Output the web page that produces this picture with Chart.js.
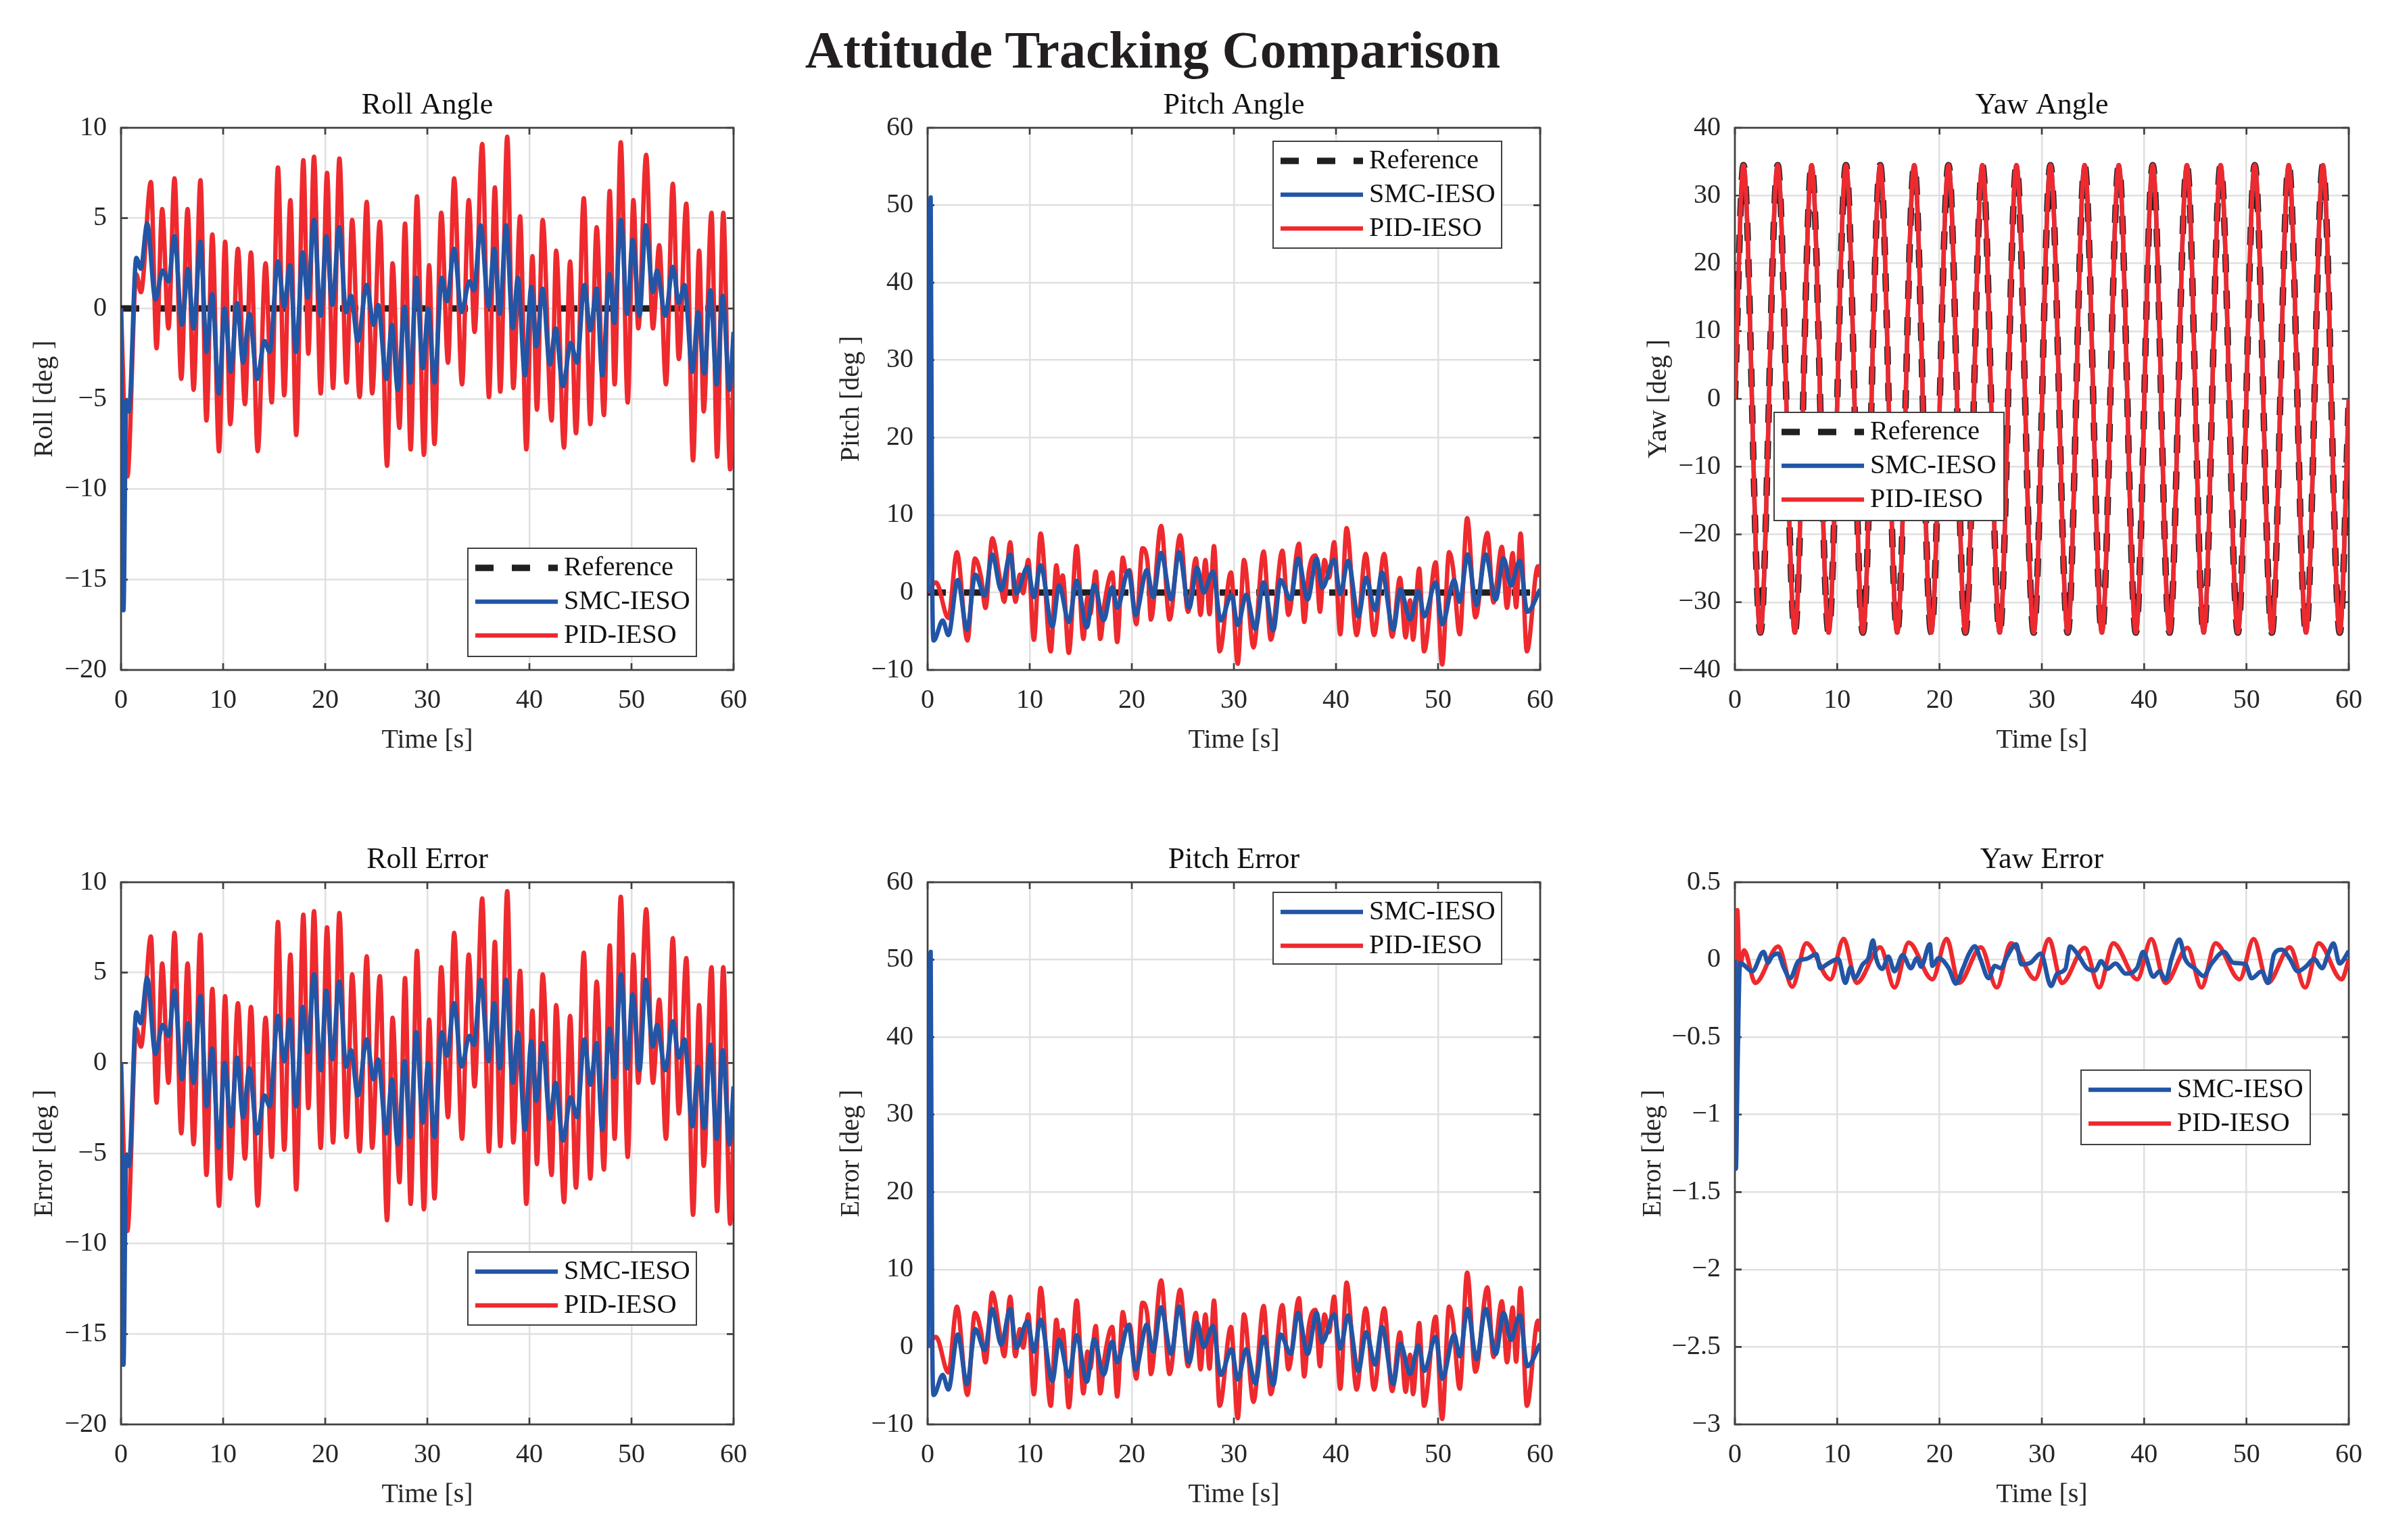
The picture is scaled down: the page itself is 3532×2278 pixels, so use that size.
<!DOCTYPE html>
<html>
<head>
<meta charset="utf-8">
<script src="https://cdn.jsdelivr.net/npm/chart.js@4.4.1/dist/chart.umd.min.js"></script>
<style>
  html, body { margin: 0; padding: 0; background: #fff; }
  #page { position: relative; width: 3532px; height: 2278px; overflow: hidden; }
  #page canvas { position: absolute; }
  #suptitle {
    position: absolute; left: 0; top: 29px; width: 3410px; line-height: 90px;
    text-align: center; font: bold 78px "Liberation Serif", "Times New Roman", serif; color: #231f20;
  }
</style>
</head>
<body>
<div id="page">
  <div id="suptitle">Attitude Tracking Comparison</div>
</div>
<script>
// time [s], value [deg] pairs (peaks / troughs)
const timeTicks = [0, 10, 20, 30, 40, 50, 60];

const zeroRef = [[0, 0], [60, 0]];

const rollSmc = [[0,0],[0.24,-16.7],[0.5,-5.1],[0.77,-5.7],[1.5,2.8],[1.94,2.2],[2.56,4.7],[3.37,0.5],[4.07,2.1],[4.65,1.5],
  [5.24,4.0],[5.97,-0.9],[6.56,2.2],[7.11,-1.1],[7.78,3.7],[8.39,-2.4],[8.92,0.8],[9.58,-4.7],[10.15,0.0],[10.75,-3.5],
  [11.37,0.3],[11.96,-3.0],[12.58,-0.3],[13.33,-3.9],[14.05,-1.8],[14.56,-2.4],[15.37,2.6],[15.99,0.1],[16.54,2.4],[17.14,-2.4],
  [17.8,3.1],[18.28,0.6],[18.9,4.9],[19.56,-0.4],[20.11,4.0],[20.7,0.2],[21.37,4.5],[22.05,-0.2],[22.53,0.7],[23.19,-1.8],
  [24.07,1.3],[24.74,-0.9],[25.18,0.2],[25.99,-3.9],[26.54,-0.9],[27.11,-4.5],[27.78,0.1],[28.33,-4.1],[28.92,1.7],[29.58,-3.3],
  [30.08,0.0],[30.7,-4.1],[31.43,1.7],[31.92,0.4],[32.63,3.3],[33.35,-0.2],[34.13,1.5],[34.57,1.0],[35.23,4.6],[36.0,0.1],
  [36.55,3.3],[37.1,-0.3],[37.72,4.6],[38.38,-1.1],[38.87,1.7],[39.57,-3.7],[40.19,1.2],[40.68,-2.1],[41.3,1.1],[42.0,-3.1],
  [42.57,-1.1],[43.28,-4.3],[44.05,-1.9],[44.67,-3.0],[45.38,1.3],[45.97,-1.2],[46.59,1.1],[47.14,-3.7],[47.85,1.9],[48.31,-0.8],
  [48.97,4.9],[49.57,-0.3],[50.12,3.8],[50.78,-0.4],[51.4,4.6],[52.1,0.9],[52.5,2.1],[53.32,-0.4],[54.05,2.3],[54.64,0.3],
  [55.19,1.3],[55.97,-3.5],[56.52,-0.2],[57.13,-3.6],[57.73,1.0],[58.35,-4.2],[58.94,0.7],[59.6,-4.5],[60,-1.3]];

const rollPid = [[0,0],[0.62,-9.3],[1.5,1.9],[1.95,0.9],[2.93,7.0],[3.48,-2.2],[4.03,5.5],[4.65,-1.1],[5.24,7.2],[5.9,-3.9],
  [6.52,5.5],[7.11,-4.5],[7.78,7.1],[8.37,-6.2],[8.94,4.1],[9.6,-7.9],[10.2,3.7],[10.7,-6.4],[11.45,3.3],[12.14,-5.3],
  [12.73,3.1],[13.39,-7.9],[14.16,2.5],[14.76,-5.2],[15.37,7.8],[15.99,-4.8],[16.59,6.0],[17.16,-7.0],[17.86,8.2],[18.35,-2.5],
  [18.9,8.4],[19.56,-4.7],[20.18,7.5],[20.77,-4.4],[21.39,8.3],[22.09,-4.1],[22.64,4.9],[23.37,-4.9],[24.07,5.9],[24.6,-4.7],
  [25.35,4.8],[26.06,-8.7],[26.6,2.5],[27.27,-6.6],[27.82,4.7],[28.37,-7.8],[28.99,6.2],[29.67,-8.1],[30.18,2.4],[30.7,-7.5],
  [31.37,5.3],[32.03,-3.0],[32.63,7.2],[33.4,-4.2],[34.06,6.0],[34.63,-1.3],[35.38,9.1],[36.04,-4.9],[36.62,6.7],[37.15,-4.6],
  [37.83,9.5],[38.43,-4.4],[39.09,5.1],[39.7,-7.8],[40.3,2.9],[40.74,-5.6],[41.3,4.9],[42.18,-6.2],[42.62,3.2],[43.39,-7.7],
  [43.99,2.6],[44.56,-6.9],[45.33,6.1],[45.97,-6.4],[46.59,4.5],[47.3,-5.9],[47.87,6.5],[48.35,-4.2],[48.95,9.2],[49.63,-5.2],
  [50.19,6.0],[50.67,-1.1],[51.44,8.5],[52.1,-1.1],[52.72,3.5],[53.38,-4.2],[54.05,6.9],[54.64,-2.8],[55.37,5.8],[56.03,-8.4],
  [56.63,3.2],[57.07,-5.7],[57.84,5.3],[58.39,-8.2],[58.99,5.3],[59.67,-8.9],[60,-3.5]];

const pitchSmc = [[0,0],[0.12,36],[0.3,51],[0.45,1],[0.6,-6.2],[1.48,-3.6],[2.03,-5.5],[2.95,1.6],[3.86,-4.8],[4.67,2.3],
  [5.6,-0.4],[6.33,4.9],[7.21,0.3],[8.09,4.9],[8.69,-0.1],[9.79,3.3],[10.41,-0.6],[11.07,3.5],[12.22,-4.4],[12.88,0.9],
  [13.83,-3.8],[14.6,1.5],[15.59,-4.5],[16.32,1.0],[17.24,-3.6],[18.08,0.7],[18.57,-2.0],[19.67,2.8],[20.37,-2.9],[21.48,2.9],
  [22.09,-0.6],[22.87,5.1],[23.86,-0.9],[24.63,5.2],[25.62,-2.0],[26.39,3.2],[27.05,0.0],[27.94,2.7],[28.71,-3.6],[29.76,-0.3],
  [30.38,-4.2],[31.21,-0.3],[32.1,-4.7],[32.91,1.3],[33.86,-4.9],[34.57,1.6],[35.56,-0.9],[36.29,4.4],[37.22,-0.9],[38.1,4.4],
  [38.65,0.6],[39.82,4.2],[40.42,-0.2],[41.19,4.1],[42.19,-3.1],[42.96,1.9],[43.84,-2.3],[44.5,2.6],[45.61,-4.8],[46.31,0.4],
  [47.26,-3.5],[48.08,0.2],[48.65,-3.1],[49.76,1.3],[50.42,-4.1],[51.57,1.6],[52.12,-1.2],[52.89,4.9],[53.77,-1.6],[54.66,4.9],
  [55.65,-0.9],[56.42,4.4],[57.13,0.9],[58.01,4.1],[58.74,-2.5],[60,0.4]];

const pitchPid = [[0,0],[0.82,1.3],[2.03,-3.3],[2.87,5.2],[3.9,-6.2],[4.63,4.4],[5.23,2.0],[5.67,-2.0],[6.33,7.0],[7.1,1.6],
  [7.5,-1.2],[8.09,6.5],[8.6,-1.2],[9.04,2.3],[9.35,-0.1],[9.86,4.2],[10.41,-6.1],[11.07,7.6],[12.06,-7.6],[12.61,3.5],
  [12.94,0.4],[13.23,2.2],[13.83,-7.8],[14.6,6.0],[15.26,-6.0],[15.66,-0.6],[15.92,-2.8],[16.47,2.7],[16.91,-6.0],[17.35,-1.2],
  [18.08,2.6],[18.57,-6.4],[19.12,4.5],[19.45,2.5],[19.78,2.9],[20.44,-4.1],[21.04,5.7],[21.54,3.9],[21.87,-3.5],[22.87,8.6],
  [23.7,-3.5],[24.74,7.4],[25.51,-2.5],[26.28,4.4],[26.73,-2.9],[27.21,4.2],[27.61,-2.8],[28.05,6.0],[28.6,-7.6],[29.71,2.6],
  [30.38,-9.2],[30.99,4.2],[31.92,-7.1],[32.91,5.3],[33.62,-6.1],[34.75,5.4],[35.34,-2.9],[36.38,6.3],[36.89,-3.8],[37.33,2.6],
  [37.99,4.8],[38.43,-2.5],[38.87,4.2],[39.32,1.9],[39.82,6.5],[40.42,-5.4],[41.04,8.3],[42.03,-5.5],[42.91,5.0],[43.73,-5.5],
  [44.72,5.0],[45.5,-5.7],[46.27,1.9],[46.82,-5.8],[47.26,-1.0],[47.55,-6.1],[48.15,3.1],[48.63,-7.6],[49.76,3.9],[50.4,-9.3],
  [51.08,5.2],[51.46,3.2],[52.12,-5.4],[52.85,9.6],[53.66,-3.2],[54.83,7.7],[55.43,-1.3],[56.25,5.9],[56.75,-2.0],[57.31,5.1],
  [57.64,-1.9],[58.08,7.6],[58.7,-7.6],[59.78,3.4],[60,2.0]];

const yawTrack = [[0,0],[0.84,34.5],[2.49,-34.5],[4.18,34.5],[5.86,-34.5],[7.5,34.5],[9.16,-34.5],[10.86,34.5],[12.51,-34.5],
  [14.2,34.5],[15.86,-34.5],[17.53,34.5],[19.19,-34.5],[20.88,34.5],[22.53,-34.5],[24.19,34.5],[25.88,-34.5],[27.52,34.5],
  [29.21,-34.5],[30.84,34.5],[32.53,-34.5],[34.18,34.5],[35.87,-34.5],[37.52,34.5],[39.19,-34.5],[40.84,34.5],[42.48,-34.5],
  [44.18,34.5],[45.82,-34.5],[47.47,34.5],[49.16,-34.5],[50.81,34.5],[52.48,-34.5],[54.13,34.5],[55.82,-34.5],[57.47,34.5],
  [59.12,-34.5],[60,0]];

const yawErrSmc = [[0,0],[0.1,-1.35],[0.25,-0.75],[0.5,-0.02],[1.7,-0.075],[2.8,0.05],[3.25,-0.02],[3.6,0.02],[4.2,0.04],
  [4.8,-0.055],[5.4,-0.12],[6.2,-0.01],[7.0,0.005],[7.96,0.035],[8.35,-0.055],[9.1,-0.025],[10.1,0.005],[10.8,-0.15],[11.3,-0.05],
  [11.7,-0.12],[12.5,-0.03],[13.05,0.01],[13.5,0.125],[13.8,0.01],[14.4,-0.06],[15.0,0.02],[15.6,-0.075],[16.4,0.03],[17.2,-0.055],
  [17.8,0.01],[18.2,-0.045],[19.06,0.1],[19.3,-0.04],[19.9,0.01],[20.9,-0.055],[21.6,-0.155],[22.3,-0.055],[22.9,0.04],[23.45,0.087],
  [24.0,0.005],[24.8,-0.12],[25.4,-0.04],[26.0,-0.055],[26.6,0.02],[27.5,0.1],[28.0,-0.03],[28.9,-0.02],[29.9,0.04],[30.9,-0.17],
  [31.5,-0.09],[32.3,-0.06],[32.75,0.085],[33.45,0.04],[34.4,-0.055],[35.2,-0.07],[35.8,-0.01],[36.4,-0.06],[37.2,-0.025],[38.2,-0.09],
  [39.3,-0.055],[39.9,0.05],[40.9,-0.11],[41.5,-0.075],[42.1,-0.13],[42.7,0.01],[43.45,0.13],[44.0,0.005],[45.0,-0.06],[45.8,-0.105],
  [46.6,-0.025],[47.8,0.05],[48.7,-0.02],[49.9,-0.03],[50.5,-0.12],[51.5,-0.075],[52.1,-0.15],[52.7,0.035],[53.45,0.065],[54.2,0.01],
  [55.0,-0.075],[55.8,-0.045],[56.6,0.005],[57.4,-0.055],[58.0,0.04],[58.5,0.105],[59.1,-0.025],[60,0.055]];

const yawErrPid = [[0,0],[0.05,-1.2],[0.24,0.32],[0.45,-0.05],[0.9,0.06],[2.0,-0.15],[4.24,0.085],[5.6,-0.175],[6.98,0.106],
  [9.33,-0.127],[10.63,0.135],[11.9,-0.15],[14.2,0.08],[15.6,-0.18],[16.98,0.11],[19.3,-0.127],[20.7,0.135],[21.9,-0.15],
  [24.04,0.08],[25.6,-0.18],[26.98,0.106],[29.33,-0.124],[30.7,0.133],[31.96,-0.15],[34.2,0.077],[35.6,-0.18],[36.98,0.106],
  [39.33,-0.127],[40.7,0.133],[42.08,-0.15],[44.24,0.077],[45.6,-0.18],[46.98,0.106],[49.33,-0.127],[50.7,0.133],[52.08,-0.15],
  [54.24,0.08],[55.73,-0.18],[57.06,0.106],[59.3,-0.127],[60,0]];

const FONT = '"Liberation Serif", "Times New Roman", serif';
const TXT = '#262626', AXIS = '#404040', GRID = '#e0e0e0';
const RED = '#ee2a2e', BLUE = '#2255a5', BLACK = '#202020';

const pts = arr => arr.map(([x, y]) => ({ x, y }));
const fmt = v => String(Math.round(v * 100) / 100).replace('-', '\u2212');

function series(label, data, color, order, dashed) {
  return {
    label, data: pts(data), borderColor: color, borderWidth: dashed ? 9.5 : 6.5,
    borderDash: dashed ? [27, 27] : [], borderCapStyle: 'butt', order,
    fill: false, pointRadius: 0, cubicInterpolationMode: 'monotone'
  };
}

// inward ticks + box, MATLAB style
const axesBox = {
  id: 'axesBox',
  beforeDatasetsDraw(chart) {
    const { ctx, chartArea: a } = chart;
    const xs = chart.scales.x, ys = chart.scales.y;
    ctx.save();
    ctx.strokeStyle = AXIS;
    ctx.lineWidth = 2.7;
    ctx.beginPath();
    xs.ticks.forEach(t => {
      const p = xs.getPixelForValue(t.value);
      ctx.moveTo(p, a.bottom); ctx.lineTo(p, a.bottom - 10);
      ctx.moveTo(p, a.top); ctx.lineTo(p, a.top + 10);
    });
    ys.ticks.forEach(t => {
      const p = ys.getPixelForValue(t.value);
      ctx.moveTo(a.left, p); ctx.lineTo(a.left + 10, p);
      ctx.moveTo(a.right, p); ctx.lineTo(a.right - 10, p);
    });
    ctx.stroke();
    ctx.strokeRect(a.left, a.top, a.right - a.left, a.bottom - a.top);
    ctx.restore();
  }
};

// legend box placed inside the axes
const boxLegend = {
  id: 'boxLegend',
  afterDatasetsDraw(chart, args, opts) {
    const { ctx, chartArea: a } = chart;
    const x0 = a.left + opts.x, y0 = a.top + opts.y;
    ctx.save();
    ctx.fillStyle = '#fff';
    ctx.fillRect(x0, y0, opts.w, opts.h);
    ctx.strokeStyle = AXIS;
    ctx.lineWidth = 2;
    ctx.strokeRect(x0, y0, opts.w, opts.h);
    ctx.font = '40px ' + FONT;
    ctx.textBaseline = 'middle';
    chart.data.datasets.forEach((ds, i) => {
      const cy = y0 + 29 + i * 50;
      ctx.beginPath();
      ctx.strokeStyle = ds.borderColor;
      ctx.lineWidth = ds.borderWidth;
      ctx.lineCap = 'butt';
      ctx.setLineDash(ds.borderDash);
      ctx.moveTo(x0 + 11, cy);
      ctx.lineTo(x0 + 133, cy);
      ctx.stroke();
      ctx.setLineDash([]);
      ctx.fillStyle = '#111';
      ctx.fillText(ds.label, x0 + 142, cy);
    });
    ctx.restore();
  }
};

const AREA_H = 802, TOP_H = 80, BOT_H = 130, RIGHT_W = 40;

const panels = [
  { left: 179, top: 189, w: 907, yw: 137, yMin: -20, yMax: 10, step: 5, title: 'Roll Angle', yTitle: 'Roll [deg ]',
    legend: { x: 513, y: 622, w: 338, h: 160 },
    sets: [series('Reference', zeroRef, BLACK, 2, true), series('SMC-IESO', rollSmc, BLUE, 0), series('PID-IESO', rollPid, RED, 1)] },
  { left: 1372, top: 189, w: 907, yw: 137, yMin: -10, yMax: 60, step: 10, title: 'Pitch Angle', yTitle: 'Pitch [deg ]',
    legend: { x: 511, y: 20, w: 338, h: 158 },
    sets: [series('Reference', zeroRef, BLACK, 2, true), series('SMC-IESO', pitchSmc, BLUE, 0), series('PID-IESO', pitchPid, RED, 1)] },
  { left: 2566, top: 189, w: 909, yw: 137, yMin: -40, yMax: 40, step: 10, title: 'Yaw Angle', yTitle: 'Yaw [deg ]',
    legend: { x: 58, y: 421, w: 340, h: 160 },
    sets: [series('Reference', yawTrack, BLACK, 2, true), series('SMC-IESO', yawTrack, BLUE, 1), series('PID-IESO', yawTrack, RED, 0)] },
  { left: 179, top: 1305, w: 907, yw: 137, yMin: -20, yMax: 10, step: 5, title: 'Roll Error', yTitle: 'Error [deg ]',
    legend: { x: 513, y: 547, w: 338, h: 108 },
    sets: [series('SMC-IESO', rollSmc, BLUE, 0), series('PID-IESO', rollPid, RED, 1)] },
  { left: 1372, top: 1305, w: 907, yw: 137, yMin: -10, yMax: 60, step: 10, title: 'Pitch Error', yTitle: 'Error [deg ]',
    legend: { x: 511, y: 15, w: 338, h: 106 },
    sets: [series('SMC-IESO', pitchSmc, BLUE, 0), series('PID-IESO', pitchPid, RED, 1)] },
  { left: 2566, top: 1305, w: 909, yw: 145, yMin: -3, yMax: 0.5, step: 0.5, title: 'Yaw Error', yTitle: 'Error [deg ]',
    legend: { x: 512, y: 278, w: 339, h: 110 },
    sets: [series('SMC-IESO', yawErrSmc, BLUE, 0), series('PID-IESO', yawErrPid, RED, 1)] }
];

const page = document.getElementById('page');
const tickFont = { family: FONT, size: 40 };

panels.forEach(p => {
  const cv = document.createElement('canvas');
  const W = p.yw + p.w + RIGHT_W, H = TOP_H + AREA_H + BOT_H;
  cv.width = W; cv.height = H;
  cv.style.width = W + 'px'; cv.style.height = H + 'px';
  cv.style.left = (p.left - p.yw) + 'px';
  cv.style.top = (p.top - TOP_H) + 'px';
  page.appendChild(cv);

  new Chart(cv, {
    type: 'line',
    data: { datasets: p.sets },
    plugins: [axesBox, boxLegend],
    options: {
      responsive: false,
      animation: false,
      devicePixelRatio: 1,
      layout: { padding: { left: 0, top: 0, right: RIGHT_W, bottom: 0 } },
      elements: { line: { borderJoinStyle: 'round' }, point: { radius: 0 } },
      plugins: {
        legend: { display: false },
        tooltip: { enabled: false },
        title: {
          display: true, text: p.title, color: '#111', fullSize: false,
          font: { family: FONT, size: 44, weight: 'normal', lineHeight: 1 },
          padding: { top: 25, bottom: 11 }
        },
        boxLegend: p.legend
      },
      scales: {
        x: {
          type: 'linear', min: 0, max: 60,
          afterBuildTicks: s => { s.ticks = timeTicks.map(v => ({ value: v })); },
          ticks: { color: TXT, font: tickFont, padding: 21, maxRotation: 0, autoSkip: false, callback: fmt },
          grid: { color: GRID, lineWidth: 2.5, drawTicks: false },
          border: { display: false },
          title: { display: true, text: 'Time [s]', color: TXT, font: tickFont, padding: { top: 0, bottom: 2 } },
          afterFit: s => { s.height = BOT_H; }
        },
        y: {
          type: 'linear', min: p.yMin, max: p.yMax,
          ticks: { stepSize: p.step, color: TXT, font: tickFont, padding: 21, autoSkip: false, callback: fmt },
          grid: { color: GRID, lineWidth: 2.5, drawTicks: false },
          border: { display: false },
          title: { display: true, text: p.yTitle, color: TXT, font: tickFont, padding: { top: 0, bottom: 0 } },
          afterFit: s => { s.width = p.yw; }
        }
      }
    }
  });
});
</script>
</body>
</html>
